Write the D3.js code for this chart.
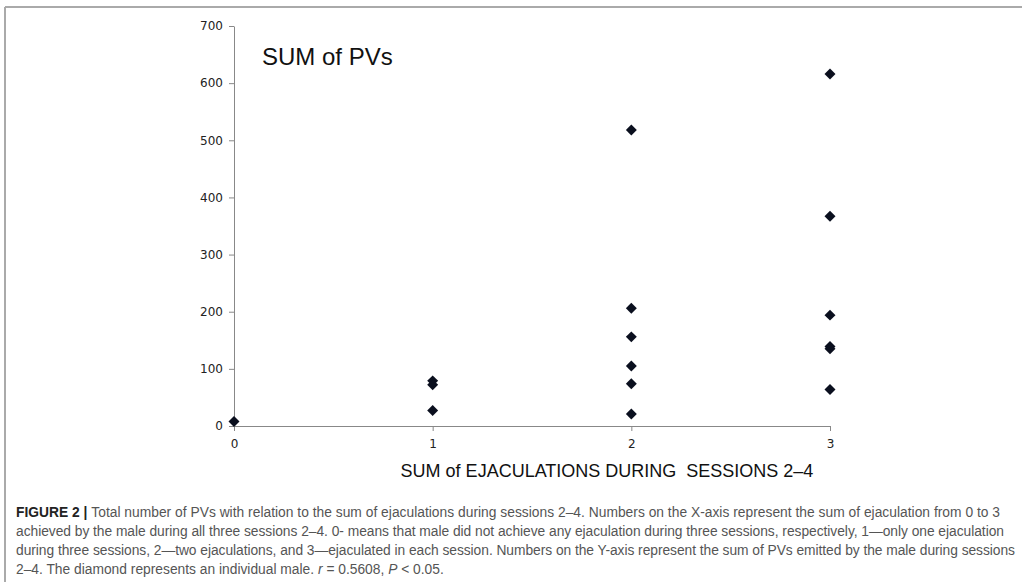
<!DOCTYPE html>
<html>
<head>
<meta charset="utf-8">
<script src="https://cdn.jsdelivr.net/npm/d3@7"></script>
<style>
  body { margin: 0; background: #fff; }
  svg { display: block; }
</style>
</head>
<body>
<svg id="chart"></svg>
<script>
// ejaculation sums (x) and PV totals (y), one entry per male
const ejaculations = [0, 1, 1, 1, 2, 2, 2, 2, 2, 2, 3, 3, 3, 3, 3, 3];
const pvSums = [8, 79, 72, 27, 518, 206, 156, 105, 74, 21, 616, 367, 194, 139, 135, 64];
const xTicks = [0, 1, 2, 3];
const yTicks = [0, 100, 200, 300, 400, 500, 600, 700];

const captionLines = [
  [{ t: "FIGURE 2 | ", b: true }, { t: "Total number of PVs with relation to the sum of ejaculations during sessions 2–4. Numbers on the X-axis represent the sum of ejaculation from 0 to 3" }],
  [{ t: "achieved by the male during all three sessions 2–4. 0- means that male did not achieve any ejaculation during three sessions, respectively, 1—only one ejaculation" }],
  [{ t: "during three sessions, 2—two ejaculations, and 3—ejaculated in each session. Numbers on the Y-axis represent the sum of PVs emitted by the male during sessions" }],
  [{ t: "2–4. The diamond represents an individual male. " }, { t: "r", i: true }, { t: " = 0.5608, " }, { t: "P", i: true }, { t: " < 0.05." }]
];
// right ends of the wrapped caption lines (null = natural width)
const captionEnds = [1000, 1004, 1015, null];

const width = 1022, height = 582;
const svg = d3.select("#chart").attr("width", width).attr("height", height);

// frame lines of the figure panel
svg.append("line").attr("x1", 5).attr("x2", width).attr("y1", 7).attr("y2", 7)
  .attr("stroke", "#aaa").attr("stroke-width", 2);
svg.append("line").attr("x1", 5).attr("x2", 5).attr("y1", 7).attr("y2", height)
  .attr("stroke", "#aaa").attr("stroke-width", 2);

const x = d3.scaleLinear().domain([0, 3]).range([234, 830]);
const y = d3.scaleLinear().domain([0, 700]).range([426, 26]);

const tickFont = "'DejaVu Sans', sans-serif";

const gy = svg.append("g")
  .attr("transform", `translate(${x(0)},0)`)
  .call(d3.axisLeft(y).tickValues(yTicks).tickSize(5).tickPadding(6).tickSizeOuter(0));
gy.select(".domain").attr("stroke", "#888");
gy.selectAll(".tick line").attr("stroke", "#888");
gy.selectAll("text").attr("font-family", tickFont).attr("font-size", 12).attr("fill", "#222");

const gx = svg.append("g")
  .attr("transform", `translate(0,${y(0)})`)
  .call(d3.axisBottom(x).tickValues(xTicks).tickFormat(d3.format("d"))
    .tickSize(5).tickPadding(8).tickSizeOuter(0));
gx.select(".domain").attr("stroke", "#888");
gx.selectAll(".tick line").attr("stroke", "#888");
gx.selectAll("text").attr("font-family", tickFont).attr("font-size", 12).attr("fill", "#222");

// points
const diamond = d3.symbol().type(d3.symbolSquare).size(60);
svg.append("g").selectAll("path")
  .data(ejaculations.map((e, i) => ({ e, v: pvSums[i] })))
  .join("path")
  .attr("d", diamond)
  .attr("transform", d => `translate(${x(d.e)},${y(d.v)}) rotate(45)`)
  .attr("fill", "#0a0f1e");

// in-plot title and x-axis title
svg.append("text")
  .attr("x", 262).attr("y", 65)
  .attr("font-family", "'Liberation Sans', Arial, sans-serif")
  .attr("font-size", 24).attr("fill", "#111")
  .text("SUM of PVs");

svg.append("text")
  .attr("x", 607).attr("y", 477)
  .attr("text-anchor", "middle")
  .attr("font-family", "'Liberation Sans', Arial, sans-serif")
  .attr("font-size", 18).attr("fill", "#111")
  .style("white-space", "pre")
  .text("SUM of EJACULATIONS DURING  SESSIONS 2–4");

// caption
const cap = svg.append("g")
  .attr("font-family", "'Liberation Sans', Arial, sans-serif")
  .attr("font-size", 13.8);
captionLines.forEach((parts, li) => {
  const t = cap.append("text")
    .attr("x", 16).attr("y", 517 + li * 19)
    .style("white-space", "pre");
  if (captionEnds[li]) {
    t.attr("textLength", captionEnds[li] - 16).attr("lengthAdjust", "spacing");
  }
  parts.forEach(p => {
    t.append("tspan")
      .attr("font-weight", p.b ? "bold" : null)
      .attr("font-style", p.i ? "italic" : null)
      .attr("fill", p.b ? "#222" : "#555")
      .text(p.t);
  });
});
</script>
</body>
</html>
